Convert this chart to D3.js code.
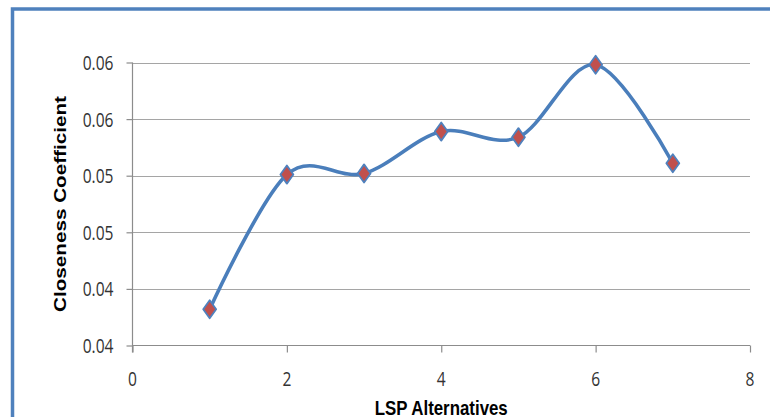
<!DOCTYPE html>
<html>
<head>
<meta charset="utf-8">
<script src="https://cdn.jsdelivr.net/npm/d3@7"></script>
<style>
  html, body { margin: 0; padding: 0; background: #fff; }
  svg { display: block; }
</style>
</head>
<body>
<script>
// Closeness coefficient of each LSP alternative
const alternatives = [1, 2, 3, 4, 5, 6, 7];
const closeness = [0.0382, 0.0501, 0.0502, 0.0539, 0.0534, 0.0598, 0.0511];

// Axis ticks and their (two-decimal) labels
const xTicks = [0, 2, 4, 6, 8];
const xTickLabels = ["0", "2", "4", "6", "8"];
const yTicks = [0.035, 0.040, 0.045, 0.050, 0.055, 0.060];
const yTickLabels = ["0.04", "0.04", "0.05", "0.05", "0.06", "0.06"];

const xTitle = "LSP Alternatives";
const yTitle = "Closeness Coefficient";

const W = 770, H = 417;
const plot = { left: 132.5, right: 750, top: 62.5, bottom: 345.5 };
const squeeze = 0.76; // narrow lettering of the labels

const svg = d3.select("body").append("svg")
  .attr("width", W).attr("height", H);

// Chart frame
svg.append("rect")
  .attr("x", 12.5).attr("y", 9)
  .attr("width", 820).attr("height", 500)
  .attr("fill", "none")
  .attr("stroke", "#4f81bd")
  .attr("stroke-width", 3.5);

const x = d3.scaleLinear().domain([0, 8]).range([plot.left, plot.right]);
const y = d3.scaleLinear().domain([0.035, 0.060]).range([plot.bottom, plot.top]);

// Horizontal gridlines
svg.append("g")
  .selectAll("line")
  .data(yTicks.slice(1))
  .join("line")
  .attr("x1", plot.left).attr("x2", plot.right)
  .attr("y1", d => Math.round(y(d)) + 0.5)
  .attr("y2", d => Math.round(y(d)) + 0.5)
  .attr("stroke", "#a5a5a5")
  .attr("stroke-width", 1.2);

// Y axis
const yAxis = svg.append("g")
  .attr("transform", `translate(${plot.left},0)`)
  .call(d3.axisLeft(y).tickValues(yTicks).tickSize(6).tickFormat(""));
yAxis.select(".domain").attr("stroke", "#8c8c8c").attr("stroke-width", 1.2)
  .attr("d", `M0,${plot.top}V${plot.bottom + 7}`);
yAxis.selectAll(".tick line").attr("stroke", "#8c8c8c").attr("stroke-width", 1.2);

// X axis
const xAxis = svg.append("g")
  .attr("transform", `translate(0,${plot.bottom})`)
  .call(d3.axisBottom(x).tickValues(xTicks).tickSize(7).tickFormat(""));
xAxis.select(".domain").attr("stroke", "#8c8c8c").attr("stroke-width", 1.2)
  .attr("d", `M${plot.left},0H${plot.right}`);
xAxis.selectAll(".tick line").attr("stroke", "#8c8c8c").attr("stroke-width", 1.2);

const tickFont = "'Open Sans', 'Liberation Sans', sans-serif";
const titleFont = "'Liberation Sans', Arial, sans-serif";

// Y tick labels
svg.append("g")
  .selectAll("text")
  .data(yTicks)
  .join("text")
  .attr("transform", d => `translate(113.5,${y(d) + 7.4}) scale(${squeeze},1)`)
  .attr("text-anchor", "end")
  .attr("font-family", tickFont)
  .attr("font-size", 20.5)
  .attr("fill", "#333")
  .text((d, i) => yTickLabels[i]);

// X tick labels
svg.append("g")
  .selectAll("text")
  .data(xTicks)
  .join("text")
  .attr("transform", d => `translate(${x(d)},385.5) scale(${squeeze},1)`)
  .attr("text-anchor", "middle")
  .attr("font-family", tickFont)
  .attr("font-size", 20.5)
  .attr("fill", "#333")
  .text((d, i) => xTickLabels[i]);

// Axis titles
svg.append("text")
  .attr("x", (plot.left + plot.right) / 2)
  .attr("y", 414.5)
  .attr("text-anchor", "middle")
  .attr("font-family", titleFont)
  .attr("font-weight", "bold")
  .attr("font-size", 20.5)
  .attr("textLength", 133)
  .attr("lengthAdjust", "spacingAndGlyphs")
  .attr("fill", "#000")
  .text(xTitle);

svg.append("text")
  .attr("transform", `translate(65.5,${(plot.top + plot.bottom) / 2}) rotate(-90)`)
  .attr("x", -108)
  .attr("y", 0)
  .attr("font-family", titleFont)
  .attr("font-weight", "bold")
  .attr("font-size", 15.6)
  .attr("textLength", 216)
  .attr("lengthAdjust", "spacingAndGlyphs")
  .attr("fill", "#000")
  .text(yTitle);

// Smoothed series line
const pts = alternatives.map((a, i) => [a, closeness[i]]);
const line = d3.line()
  .x(d => x(d[0]))
  .y(d => y(d[1]))
  .curve(d3.curveCardinal.tension(0));

svg.append("path")
  .datum(pts)
  .attr("d", line)
  .attr("fill", "none")
  .attr("stroke", "#4a7ebb")
  .attr("stroke-width", 3.6)
  .attr("stroke-linejoin", "round")
  .attr("stroke-linecap", "round");

// Diamond markers
const diamond = d3.symbol().type(d3.symbolSquare).size(84);
svg.append("g")
  .selectAll("path")
  .data(pts)
  .join("path")
  .attr("d", diamond)
  .attr("transform", d => `translate(${x(d[0])},${y(d[1])}) scale(1,1.4) rotate(45)`)
  .attr("fill", "#c0504d")
  .attr("stroke", "#4f81bd")
  .attr("stroke-width", 1.8)
  .attr("stroke-linejoin", "round")
  .attr("vector-effect", "non-scaling-stroke");
</script>
</body>
</html>
